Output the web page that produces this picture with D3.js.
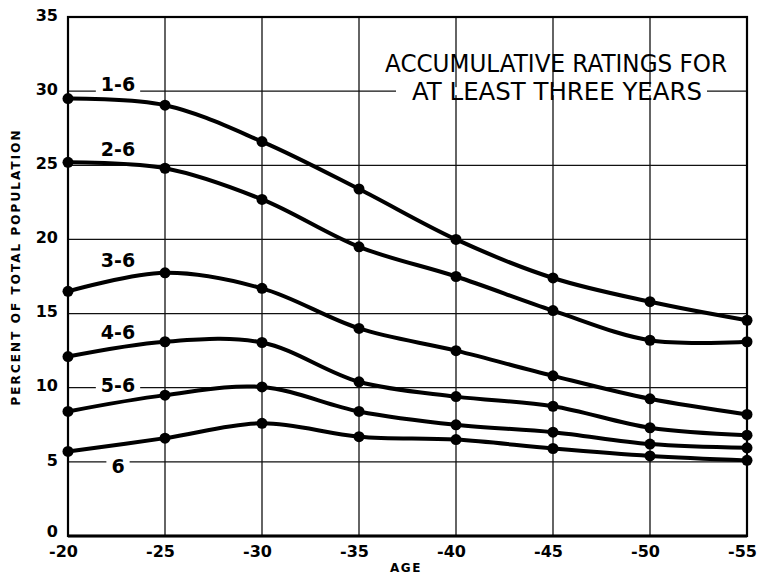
<!DOCTYPE html>
<html><head><meta charset="utf-8">
<script src="https://cdn.jsdelivr.net/npm/d3@7"></script>
<style>body{margin:0;background:#fff}svg{display:block}</style>
</head><body>
<svg id="c" width="759" height="574"></svg>
<script>
const ages = ["-20","-25","-30","-35","-40","-45","-50","-55"];
const yTicks = [0,5,10,15,20,25,30,35];
const seriesNames = ["1-6","2-6","3-6","4-6","5-6","6"];
const s16 = [29.5, 29.05, 26.6, 23.4, 20.0, 17.4, 15.8, 14.55];
const s26 = [25.2, 24.8, 22.7, 19.5, 17.5, 15.2, 13.2, 13.1];
const s36 = [16.5, 17.75, 16.7, 14.0, 12.5, 10.8, 9.25, 8.2];
const s46 = [12.1, 13.1, 13.05, 10.4, 9.4, 8.75, 7.3, 6.8];
const s56 = [8.4, 9.5, 10.05, 8.4, 7.5, 7.0, 6.2, 5.95];
const s6  = [5.7, 6.6, 7.6, 6.7, 6.5, 5.9, 5.4, 5.1];
const seriesValues = [s16, s26, s36, s46, s56, s6];
const titleLines = ["ACCUMULATIVE RATINGS FOR","AT LEAST THREE YEARS"];

const svg = d3.select("#c");
const L = 68, R = 747, T = 17, B = 536;
const x = d3.scalePoint().domain(ages).range([L, R]);
const y = d3.scaleLinear().domain([0, 35]).range([B, T]);

// grid
const g = svg.append("g");
g.selectAll("line.v").data(ages).join("line")
  .attr("x1", d => x(d)).attr("x2", d => x(d)).attr("y1", T).attr("y2", B)
  .attr("stroke", "#111").attr("stroke-width", 1.3);
g.selectAll("line.h").data(yTicks).join("line")
  .attr("x1", L).attr("x2", R).attr("y1", d => y(d)).attr("y2", d => y(d))
  .attr("stroke", "#111").attr("stroke-width", 1.3);
// frame
svg.append("rect").attr("x", L).attr("y", T).attr("width", R-L).attr("height", B-T)
  .attr("fill", "none").attr("stroke", "#000").attr("stroke-width", 2.2);
svg.append("line").attr("x1", L).attr("x2", R).attr("y1", B).attr("y2", B)
  .attr("stroke", "#000").attr("stroke-width", 3);

// axes tick labels
const yAxis = d3.axisLeft(y).tickValues(yTicks).tickSize(0).tickPadding(10);
const ya = svg.append("g").attr("transform", `translate(${L},0)`).call(yAxis);
ya.select(".domain").remove();
ya.selectAll("text").attr("font-family","DejaVu Sans").attr("font-weight","bold")
  .attr("font-size",16).attr("fill","#000").attr("dy", d => d === 0 ? "0.05em" : "0.2em");
const xAxis = d3.axisBottom(x).tickSize(0).tickPadding(10);
const xa = svg.append("g").attr("transform", `translate(-5,${B})`).call(xAxis);
xa.select(".domain").remove();
xa.selectAll("text").attr("font-family","DejaVu Sans").attr("font-weight","bold")
  .attr("font-size",16).attr("fill","#000");

svg.append("text").attr("x", 406).attr("y", 572).attr("text-anchor","middle")
  .attr("font-family","DejaVu Sans").attr("font-weight","bold").attr("font-size",12)
  .attr("letter-spacing",1.5).text("AGE");
svg.append("text").attr("transform","translate(20,268) rotate(-90)").attr("text-anchor","middle")
  .attr("font-family","DejaVu Sans").attr("font-weight","bold").attr("font-size",12)
  .attr("textLength",275).attr("lengthAdjust","spacing").text("PERCENT OF TOTAL POPULATION");

// title
const t2w = 290, t2x = 557, t2y = y(30);
svg.append("rect").attr("x", 396).attr("y", t2y - 4).attr("width", 311).attr("height", 8).attr("fill","#fff");
svg.append("text").attr("x", 556).attr("y", 72).attr("text-anchor","middle")
  .attr("font-family","DejaVu Sans").attr("font-size",25).attr("textLength",342)
  .attr("lengthAdjust","spacingAndGlyphs").text(titleLines[0]);
svg.append("text").attr("x", t2x).attr("y", 100).attr("text-anchor","middle")
  .attr("font-family","DejaVu Sans").attr("font-size",24).attr("textLength",t2w)
  .attr("lengthAdjust","spacingAndGlyphs").text(titleLines[1]);

// lines
const line = d3.line().x((d,i) => x(ages[i])).y(d => y(d)).curve(d3.curveCatmullRom.alpha(0.5));
seriesValues.forEach((vals, si) => {
  svg.append("path").datum(vals).attr("d", line).attr("fill","none")
    .attr("stroke","#000").attr("stroke-width",4).attr("stroke-linejoin","round").attr("stroke-linecap","round");
  svg.append("g").selectAll("circle").data(vals).join("circle")
    .attr("cx", (d,i) => x(ages[i])).attr("cy", d => y(d)).attr("r", 5.5).attr("fill","#000");
});

// series labels
const labelX = [118, 118, 118, 118, 118, 118];
const labelY = [84, 149, 260, 332, 385, 466];
seriesNames.forEach((n, i) => {
  const t = svg.append("text").attr("x", labelX[i]).attr("y", labelY[i]).attr("text-anchor","middle")
    .attr("dominant-baseline","central")
    .attr("font-family","DejaVu Sans").attr("font-weight","bold").attr("font-size",19).text(n);
  const bb = t.node().getBBox();
  svg.insert("rect", () => t.node()).attr("x", bb.x - 5).attr("y", bb.y + 2).attr("width", bb.width + 10)
    .attr("height", bb.height - 4).attr("fill","#fff");
});
</script>
</body></html>
